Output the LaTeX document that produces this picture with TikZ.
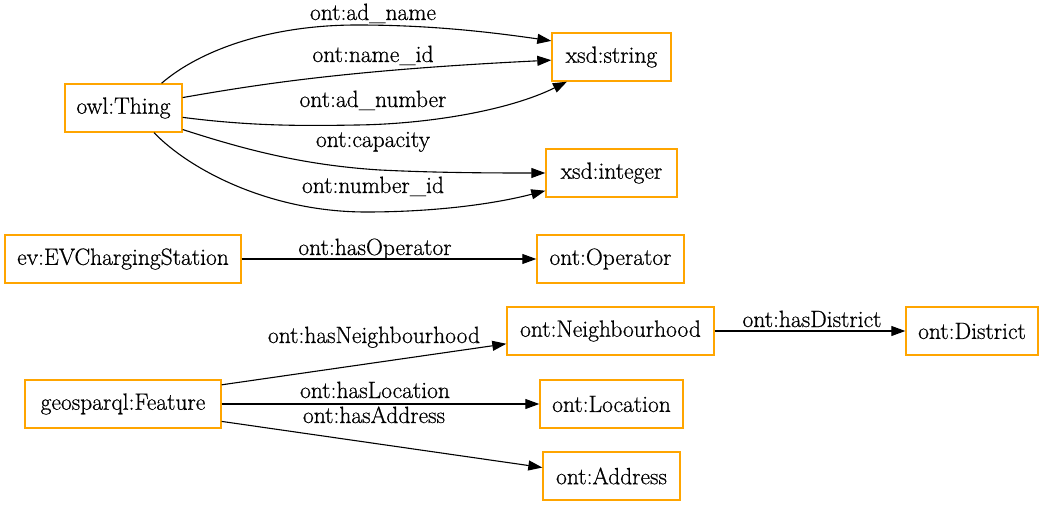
\documentclass[tikz,border=0pt]{standalone}
\usepackage{fontspec}
\setmainfont{Latin Modern Roman}[FakeBold=0.6]
\usepackage{tikz}
\usetikzlibrary{arrows.meta}
\definecolor{orng}{HTML}{FFA500}
\tikzset{
  box/.style={draw=orng,line width=1.4pt,minimum height=48pt,inner sep=0pt,font=\fontsize{23.5}{28}\selectfont},
  lbl/.style={inner sep=0pt,anchor=base,font=\fontsize{23.5}{28}\selectfont},
  ar/.style={-{Triangle[length=14pt,width=10pt]},line width=1.1pt,draw=black},
}
\begin{document}
\begin{tikzpicture}[x=1pt,y=-1pt]
\useasboundingbox (0,0) rectangle (1044,505);
% classes, left column
\node[box,minimum width=117pt] (thing) at (123.5,108) {owl:Thing};
\node[box,minimum width=236pt] (ev) at (123,259) {ev:EVChargingStation};
\node[box,minimum width=196pt] (feat) at (123,404) {geosparql:Feature};
% classes, right column
\node[box,minimum width=119pt] (str) at (611.5,57) {xsd:string};
\node[box,minimum width=131pt] (int) at (611.5,173) {xsd:integer};
\node[box,minimum width=147pt] (op) at (610.5,259) {ont:Operator};
\node[box,minimum width=207pt] (nb) at (610.5,331) {ont:Neighbourhood};
\node[box,minimum width=132pt] (dist) at (972,331) {ont:District};
\node[box,minimum width=143pt] (loc) at (611.5,404) {ont:Location};
\node[box,minimum width=137pt] (addr) at (611.5,476) {ont:Address};
% properties
\draw[ar] (thing.33) .. controls (200,50) and (270,25) .. (357,25) .. controls (430,25) and (490,32) .. (str.165);
\draw[ar] (thing.10) .. controls (260,84) and (350,70) .. (str.183);
\draw[ar] (thing.-9) .. controls (250,126) and (300,126) .. (357,125) .. controls (430,124) and (510,110) .. (str.209);
\draw[ar] (thing.-20) .. controls (240,148) and (300,165) .. (380,170) .. controls (440,173) and (500,173) .. (int.west);
\draw[ar] (thing.-39) .. controls (190,170) and (270,212) .. (366,212) .. controls (430,212) and (490,205) .. (int.195);
\draw[ar] (ev) -- (op);
\draw[ar] (feat.11) -- (nb.187);
\draw[ar] (feat) -- (loc);
\draw[ar] (feat.-10) -- (addr.173);
\draw[ar] (nb) -- (dist);
% labels
\node[lbl] (l-adname) at (373,20) {ont:ad\_name};
\node[lbl] (l-nameid) at (373,62) {ont:name\_id};
\node[lbl] (l-adnumber) at (373,107) {ont:ad\_number};
\node[lbl] (l-capacity) at (373,147) {ont:capacity};
\node[lbl] (l-numberid) at (373,193) {ont:number\_id};
\node[lbl] (l-operator) at (375,255) {ont:hasOperator};
\node[lbl] (l-neigh) at (374,343) {ont:hasNeighbourhood};
\node[lbl] (l-district) at (812,327) {ont:hasDistrict};
\node[lbl] (l-location) at (375,398) {ont:hasLocation};
\node[lbl] (l-address) at (374,423) {ont:hasAddress};
\end{tikzpicture}
\end{document}
